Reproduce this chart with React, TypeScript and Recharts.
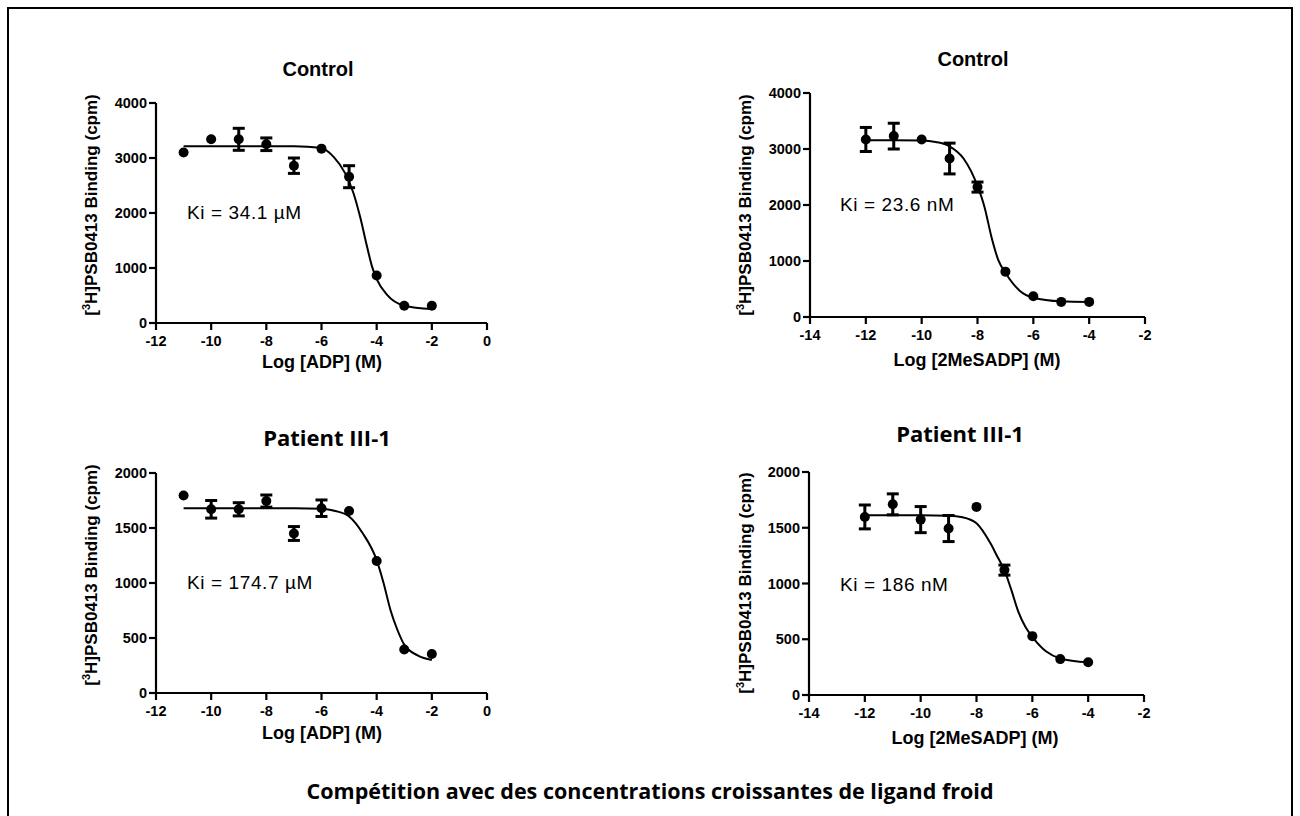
import React from 'react';
import { ComposedChart, Scatter, Line, XAxis, YAxis, ErrorBar } from 'recharts';

// doses (log M)
const adpDoses = [-11, -10, -9, -8, -7, -6, -5, -4, -3, -2];
const meDoses = [-12, -11, -10, -9, -8, -7, -6, -5, -4];

// measured binding (cpm) and SEM
const ctrlAdpMean = [3100, 3340, 3340, 3250, 2860, 3170, 2660, 865, 315, 315];
const ctrlAdpSem = [0, 0, 200, 115, 140, 0, 200, 0, 0, 0];
const ctrlMeMean = [3170, 3230, 3170, 2830, 2320, 810, 370, 270, 270];
const ctrlMeSem = [215, 230, 0, 275, 90, 0, 0, 0, 0];
const patAdpMean = [1795, 1670, 1670, 1745, 1450, 1680, 1655, 1200, 395, 355];
const patAdpSem = [0, 80, 60, 55, 63, 75, 0, 0, 0, 0];
const patMeMean = [1597, 1710, 1573, 1493, 1687, 1120, 528, 322, 293];
const patMeSem = [107, 94, 117, 117, 0, 45, 0, 0, 0];

// fitted curves
const ctrlAdpFitX = [-11, -10, -9, -8, -7, -6.05, -5.56, -5.14, -4.84, -4.6, -4.35, -4.17, -3.99, -3.63, -3, -2];
const ctrlAdpFitY = [3215, 3215, 3215, 3215, 3213, 3185, 3020, 2720, 2360, 1930, 1390, 1030, 790, 515, 315, 255];
const ctrlMeFitX = [-12, -11, -10, -9.5, -9, -8.5, -8, -7.75, -7.5, -7.25, -7, -6.5, -6, -5, -4];
const ctrlMeFitY = [3155, 3155, 3150, 3125, 3048, 2830, 2340, 1965, 1430, 1010, 790, 475, 345, 280, 268];
const patAdpFitX = [-11, -10, -9, -8, -7, -6, -5.5, -5, -4.5, -4, -3.75, -3.5, -3.25, -3, -2.5, -2];
const patAdpFitY = [1680, 1680, 1680, 1680, 1680, 1675, 1655, 1605, 1450, 1208, 1000, 755, 575, 440, 340, 300];
const patMeFitX = [-12, -11, -10, -9, -8.5, -8, -7.5, -7.25, -7, -6.75, -6.5, -6.25, -6, -5.5, -5, -4];
const patMeFitY = [1612, 1612, 1612, 1608, 1595, 1540, 1360, 1240, 1120, 940, 745, 612, 522, 390, 328, 293];

const adpTicks = [-12, -10, -8, -6, -4, -2, 0];
const meTicks = [-14, -12, -10, -8, -6, -4, -2];
const ticks4000 = [0, 1000, 2000, 3000, 4000];
const ticks2000 = [0, 500, 1000, 1500, 2000];

const zip = (xs: number[], ys: number[], es?: number[]) =>
  xs.map((x, i) => ({ x, y: ys[i], err: es && es[i] ? es[i] : undefined }));

const tickStyle = { fill: '#000', fontSize: 14.5, fontWeight: 700, fontFamily: 'Liberation Sans, Arial, sans-serif' };

type PanelProps = {
  axisX: number;
  plotTop: number;
  plotBottom: number;
  xRight: number;
  xDomain: [number, number];
  xTicks: number[];
  yMax: number;
  yTicks: number[];
  points: { x: number; y: number; err?: number }[];
  fit: { x: number; y: number }[];
};

function Panel(p: PanelProps) {
  const plotW = p.xRight - p.axisX;
  const plotH = p.plotBottom - p.plotTop;
  const width = 80 + plotW + 25;
  const height = plotH + 60;
  return (
    <div style={{ position: 'absolute', left: p.axisX - 80, top: p.plotTop - 15 }}>
      <ComposedChart width={width} height={height} margin={{ top: 15, right: 25, left: 20, bottom: 15 }}>
        <XAxis
          type="number"
          dataKey="x"
          domain={p.xDomain}
          ticks={p.xTicks}
          allowDataOverflow
          height={30}
          tickSize={7}
          tickMargin={6}
          stroke="#000"
          strokeWidth={2.2}
          fontSize={14.5}
          tick={tickStyle}
        />
        <YAxis
          type="number"
          dataKey="y"
          domain={[0, p.yMax]}
          ticks={p.yTicks}
          width={60}
          tickSize={7}
          tickMargin={2}
          stroke="#000"
          strokeWidth={2.2}
          fontSize={14.5}
          tick={tickStyle}
        />
        <Line
          data={p.fit}
          dataKey="y"
          type="monotone"
          stroke="#000"
          strokeWidth={2}
          dot={false}
          isAnimationActive={false}
        />
        <Scatter data={p.points} dataKey="y" fill="#000" isAnimationActive={false}
          shape={(s: any) => <circle cx={s.cx} cy={s.cy} r={5} fill="#000" />}>
          <ErrorBar dataKey="err" direction="y" width={6} stroke="#000" strokeWidth={3} />
        </Scatter>
      </ComposedChart>
    </div>
  );
}

const abs = (left: number, top: number, extra: React.CSSProperties = {}): React.CSSProperties => ({
  position: 'absolute',
  left,
  top,
  transform: 'translate(-50%, -50%)',
  whiteSpace: 'nowrap',
  color: '#000',
  ...extra,
});

const arial: React.CSSProperties = { fontFamily: 'Liberation Sans, Arial, sans-serif' };
const calibri: React.CSSProperties = { fontFamily: 'Open Sans, sans-serif', fontWeight: 700 };

function YLabel({ x, y }: { x: number; y: number }) {
  return (
    <div style={abs(x, y, { ...arial, fontWeight: 700, fontSize: 17, transform: 'translate(-50%, -50%) rotate(-90deg)' })}>
      [<sup style={{ fontSize: 11 }}>3</sup>H]PSB0413 Binding (cpm)
    </div>
  );
}

function KiLabel({ x, y, text }: { x: number; y: number; text: string }) {
  return (
    <div style={{ position: 'absolute', left: x, top: y, transform: 'translateY(-50%)', whiteSpace: 'nowrap', ...arial, fontSize: 19, letterSpacing: 0.6 }}>
      {text}
    </div>
  );
}

export default function App() {
  return (
    <div style={{ position: 'absolute', left: 0, top: 0, width: 1300, height: 816, background: '#fff', overflow: 'hidden' }}>
      <div style={{ position: 'absolute', left: 7, top: 7, width: 1286, height: 900, border: '2px solid #000', boxSizing: 'border-box' }} />

      <Panel axisX={156} plotTop={103} plotBottom={323} xRight={487} xDomain={[-12, 0]} xTicks={adpTicks}
        yMax={4000} yTicks={ticks4000} points={zip(adpDoses, ctrlAdpMean, ctrlAdpSem)} fit={zip(ctrlAdpFitX, ctrlAdpFitY)} />
      <Panel axisX={810} plotTop={93} plotBottom={317} xRight={1145} xDomain={[-14, -2]} xTicks={meTicks}
        yMax={4000} yTicks={ticks4000} points={zip(meDoses, ctrlMeMean, ctrlMeSem)} fit={zip(ctrlMeFitX, ctrlMeFitY)} />
      <Panel axisX={156} plotTop={473} plotBottom={693} xRight={487} xDomain={[-12, 0]} xTicks={adpTicks}
        yMax={2000} yTicks={ticks2000} points={zip(adpDoses, patAdpMean, patAdpSem)} fit={zip(patAdpFitX, patAdpFitY)} />
      <Panel axisX={809} plotTop={472} plotBottom={695} xRight={1144} xDomain={[-14, -2]} xTicks={meTicks}
        yMax={2000} yTicks={ticks2000} points={zip(meDoses, patMeMean, patMeSem)} fit={zip(patMeFitX, patMeFitY)} />

      <div style={abs(318, 69, { ...arial, fontWeight: 700, fontSize: 20 })}>Control</div>
      <div style={abs(973, 59, { ...arial, fontWeight: 700, fontSize: 20 })}>Control</div>
      <div style={abs(327, 437, { ...calibri, fontSize: 22 })}>Patient III-1</div>
      <div style={abs(960, 433, { ...calibri, fontSize: 22 })}>Patient III-1</div>

      <div style={abs(322, 362, { ...arial, fontWeight: 700, fontSize: 18 })}>Log [ADP] (M)</div>
      <div style={abs(977, 360, { ...arial, fontWeight: 700, fontSize: 18 })}>Log [2MeSADP] (M)</div>
      <div style={abs(322, 733, { ...arial, fontWeight: 700, fontSize: 18 })}>Log [ADP] (M)</div>
      <div style={abs(975, 738, { ...arial, fontWeight: 700, fontSize: 18 })}>Log [2MeSADP] (M)</div>

      <YLabel x={91} y={205} />
      <YLabel x={745} y={205} />
      <YLabel x={91} y={575} />
      <YLabel x={745} y={583} />

      <KiLabel x={187} y={213} text="Ki = 34.1 µM" />
      <KiLabel x={840} y={205} text="Ki = 23.6 nM" />
      <KiLabel x={187} y={583} text="Ki = 174.7 µM" />
      <KiLabel x={840} y={585} text="Ki = 186 nM" />

      <div style={abs(650, 790, { ...calibri, fontSize: 21.5 })}>
        Compétition avec des concentrations croissantes de ligand froid
      </div>
    </div>
  );
}
